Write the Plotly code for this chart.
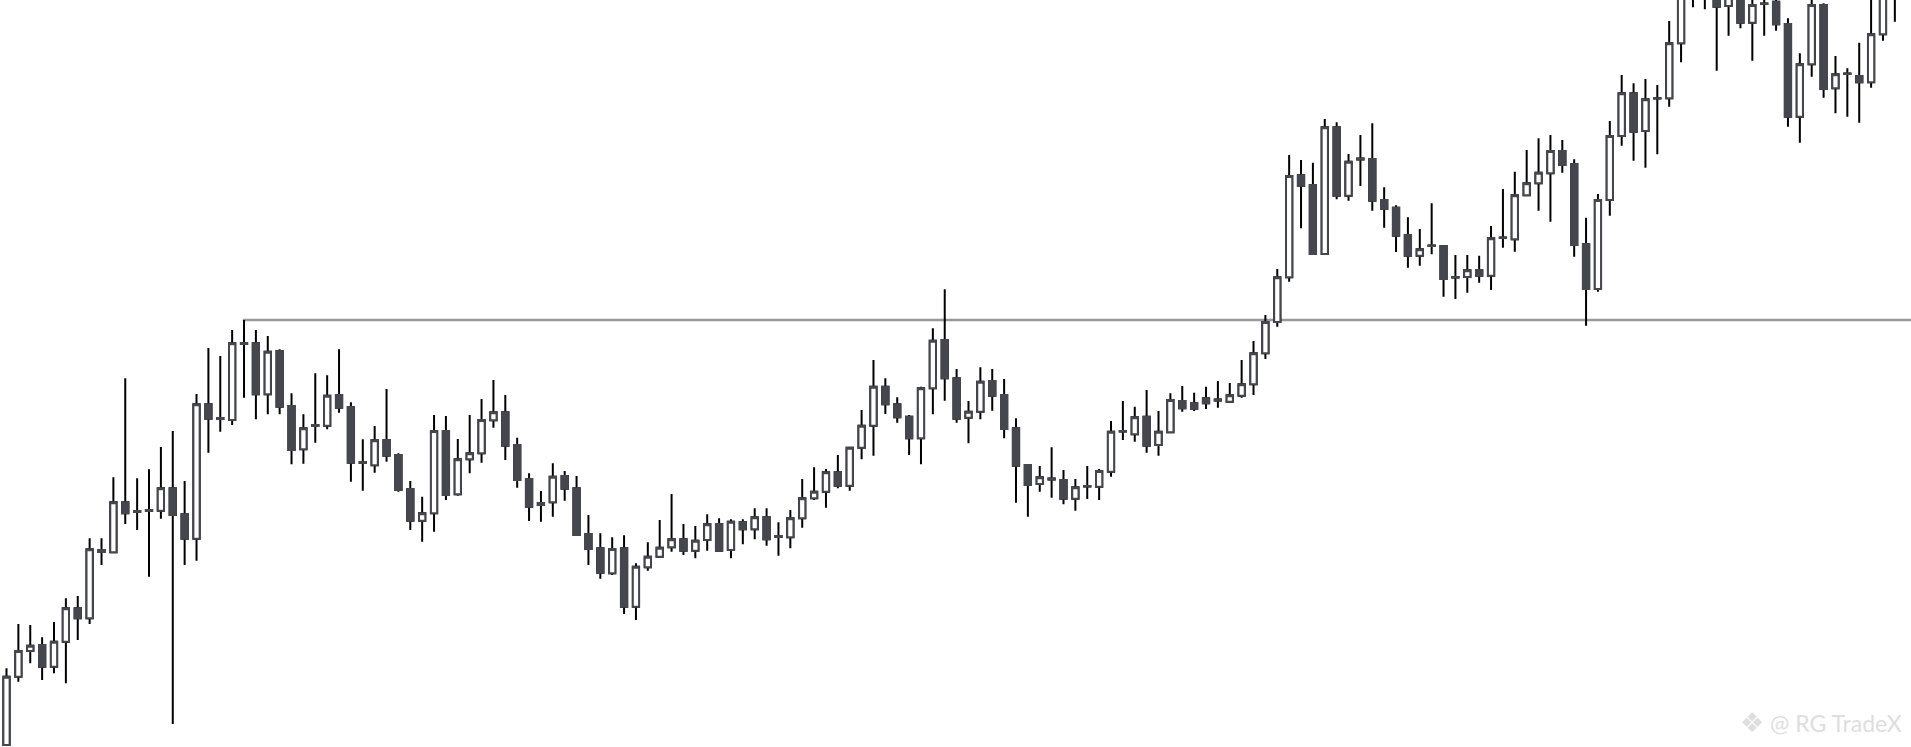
import plotly.graph_objects as go

# Price values (arbitrary price units, 0 = bottom edge, 747 = top edge)
open_ = [2, 70.3, 96, 102, 80.3, 105.3, 138.7, 128.7, 197, 194.7,
         244.7, 236, 236, 236.3, 258.7, 232.7, 208.3, 342.7, 329, 327,
         404, 403.7, 352.7, 396, 341, 297.7, 322, 321.3, 352, 340,
         285, 281.7, 307, 292, 258, 226.3, 233.7, 316, 252.7, 287.7,
         293.7, 326.7, 334.7, 302, 268, 244, 244.7, 271, 258.7, 213,
         198.7, 173.7, 198.7, 140.3, 179.7, 190.3, 199.7, 207.7, 196.3, 207,
         223, 197, 224.7, 217.7, 229.7, 211, 209.7, 228.7, 248.7, 255.3,
         274.7, 261.3, 299.3, 321.3, 360.3, 342.7, 330.3, 308.7, 358.7, 407,
         368.7, 329.3, 335.3, 366, 352, 318.7, 282, 263, 268.5, 267,
         248.3, 260.5, 260.3, 275.3, 315.5, 312.7, 330.3, 302, 314.7, 346,
         343.7, 348.7, 347.5, 345.3, 351.3, 362.7, 393.7, 425, 469.7, 571.7,
         562, 493, 619.7, 551.3, 588.5, 588, 547, 539.3, 512, 491.3,
         501.5, 501, 470, 470, 476.7, 471.3, 509, 507.7, 551.7, 563.7,
         573.7, 596, 583, 503, 458, 547, 611, 653.7, 616, 648.5,
         648.7, 703.7, 765, 772, 760, 741, 760, 724.3, 743.5, 745.3,
         723, 630.3, 682.7, 742, 658.7, 673, 671, 664.7, 712.7, 760]

high = [78.7, 123, 122, 109.7, 125, 148.7, 151, 208.7, 208.7, 269.7,
        368.7, 268.7, 277.7, 300, 316, 266, 353, 399, 391, 417,
        427, 417, 411, 397.7, 353.7, 332.7, 373.7, 371.7, 397.7, 344.7,
        307.7, 321, 358, 293.7, 266, 250.3, 332, 331, 308, 332,
        348, 367, 352, 309.3, 273.7, 256, 283.7, 276, 271, 232,
        213.7, 209.7, 211.7, 183.7, 204.7, 227, 253, 223, 221, 232.7,
        228.7, 227.7, 227.7, 238.7, 238.7, 224.7, 237, 268, 279.7, 278,
        292, 300.3, 337, 387, 368.7, 349.7, 332, 360.3, 418.7, 457.7,
        378, 346, 379.7, 378, 368, 328.7, 282.7, 281, 299.7, 277,
        268, 281, 278, 326, 346, 340.3, 357, 336, 353.7, 361,
        354.3, 360.3, 366, 364, 387, 406, 432, 478, 592, 587,
        584.3, 628, 624.7, 593, 612, 623.7, 559.7, 541.7, 529.7, 518,
        543.7, 501, 492, 492, 491.3, 521, 558, 575.3, 597, 608.7,
        612, 607, 587.7, 529.3, 553, 626, 672, 663.7, 668, 662,
        726, 772, 790, 795, 780, 785, 775, 760, 755, 760,
        728.7, 693.7, 752, 743.7, 691, 678.7, 704.3, 760, 770, 800]

low = [1, 65.3, 83.7, 67, 73.7, 63.7, 107, 123, 182, 194.7,
       223, 217, 170.3, 228.3, 23, 182, 186.3, 294.3, 315.3, 322,
       349.3, 327.7, 332.7, 332.7, 282.7, 283.3, 304.3, 317.7, 334.3, 265.3,
       256.3, 274.3, 285.3, 255.3, 217, 205.3, 215.3, 247, 251.3, 273.7,
       284.3, 319.3, 287, 259.3, 226, 225.3, 230.3, 246.3, 212, 182,
       168.3, 172, 133, 127, 176.3, 189.3, 195.3, 192, 188.7, 196.3,
       195.3, 188.7, 202.7, 207.7, 201.3, 191.3, 198.7, 219.3, 247, 239.3,
       258.7, 256.3, 287.7, 291.3, 333, 324.3, 292, 282.7, 332.7, 346.3,
       324.3, 303.7, 327.7, 336.3, 308.7, 244.3, 230.3, 255.3, 249.3, 242.7,
       236.3, 248, 247, 270.3, 307, 305.3, 294.3, 291.3, 314.7, 335.3,
       336, 338, 339.3, 344.3, 349.3, 352, 388, 420.3, 465.3, 518.7,
       493, 493, 547.7, 546.3, 561, 536.3, 519.3, 495, 479.3, 481.3,
       492.7, 450.3, 448, 454.3, 464.3, 457, 499.3, 495.3, 551.3, 536.3,
       525.3, 574.3, 490.3, 421.3, 455.3, 531.3, 601.3, 586.3, 579.3, 592.7,
       640.3, 684.7, 739.7, 737.7, 676.3, 711.3, 718.7, 686.3, 711.3, 716.3,
       620.3, 604.3, 670.3, 649.3, 633.7, 630.3, 624.3, 659.3, 706.3, 725.3]

close = [70.3, 96, 101.3, 80.3, 105.3, 138.7, 128.7, 197.7, 195, 244.7,
         233.7, 235, 237, 258.7, 232, 208.3, 342.7, 328.3, 328, 403.7,
         403, 352.7, 395.3, 340.3, 297, 318.7, 321, 351.3, 339.3, 284.3,
         284, 306.7, 291.3, 257, 226.3, 233.7, 316, 252, 287.7, 293.7,
         327, 334.7, 301.3, 267, 240.3, 242, 270.3, 258.3, 212, 198,
         174.3, 198, 140.3, 180.3, 190.3, 199.3, 207.7, 196.3, 206.3, 222.7,
         196.3, 225.3, 217.7, 229.7, 207.7, 210, 228.7, 248.7, 255.3, 274.7,
         261.3, 299.3, 321.3, 360.3, 342.7, 329.7, 308.7, 358.7, 406.3, 368.7,
         328.3, 335.3, 365.3, 351.3, 318, 281.3, 262, 269.7, 267.5, 248.3,
         259.7, 261, 276, 315.3, 316, 329.7, 301.3, 315.3, 347, 338.7,
         338.3, 343.7, 346.5, 351.7, 362.7, 393.7, 425, 469.7, 571, 561.3,
         493, 619.7, 551.3, 585.3, 587.5, 546.3, 538, 511.3, 491.3, 497.7,
         501, 468, 469.5, 476.7, 471.3, 508.7, 509.5, 551.7, 563.7, 574.3,
         596, 582, 502, 458, 547, 611, 653.7, 615.3, 647.7, 648.7,
         703.7, 757, 775, 762, 740.3, 765, 724.3, 742, 743, 722.7,
         630.3, 682.7, 742, 658, 672.7, 673.5, 664.7, 712.7, 755, 780]

bar_index = list(range(len(close)))

resistance_level = 427
resistance_start = 19.9

DARK = "#45474f"
WICK = "#000000"
BG = "#ffffff"

# Bodies only (derived from the same OHLC data) so the body outline can differ from the wick colour
body_high = [max(o, c) for o, c in zip(open_, close)]
body_low = [min(o, c) for o, c in zip(open_, close)]

fig = go.Figure()

# Wicks (black)
fig.add_trace(go.Candlestick(
    x=bar_index, open=open_, high=high, low=low, close=close,
    increasing=dict(line=dict(color=WICK, width=2), fillcolor=BG),
    decreasing=dict(line=dict(color=WICK, width=2), fillcolor=DARK),
    showlegend=False, hoverinfo="skip",
))

# Bodies (dark grey outline; hollow when rising, filled when falling)
fig.add_trace(go.Candlestick(
    x=bar_index, open=open_, high=body_high, low=body_low, close=close,
    increasing=dict(line=dict(color=DARK, width=2), fillcolor=BG),
    decreasing=dict(line=dict(color=DARK, width=2), fillcolor=DARK),
    showlegend=False,
))

fig.add_shape(
    type="line", xref="x", yref="y",
    x0=resistance_start, x1=bar_index[-1] + 5,
    y0=resistance_level, y1=resistance_level,
    line=dict(color="#999999", width=2.4), layer="below",
)

fig.add_annotation(
    xref="paper", yref="paper", x=0.9965, y=0.034,
    xanchor="right", yanchor="middle",
    text="<span style='font-size:27px'>❖</span> @ RG TradeX", showarrow=False,
    font=dict(family="Lato, DejaVu Sans, sans-serif", size=23, color="#dedede"),
)

fig.update_layout(
    width=1911, height=747,
    margin=dict(l=0, r=0, t=0, b=0),
    paper_bgcolor=BG, plot_bgcolor=BG,
    boxgap=0.25,
    showlegend=False,
    xaxis=dict(range=[-0.547, 160.36], visible=False, showgrid=False,
               zeroline=False, rangeslider=dict(visible=False), fixedrange=True),
    yaxis=dict(range=[0, 747], visible=False, showgrid=False,
               zeroline=False, fixedrange=True),
)

fig.write_html("out.html", config={"displayModeBar": False},
               post_script="document.body.style.margin='0';document.body.style.overflow='hidden';")
